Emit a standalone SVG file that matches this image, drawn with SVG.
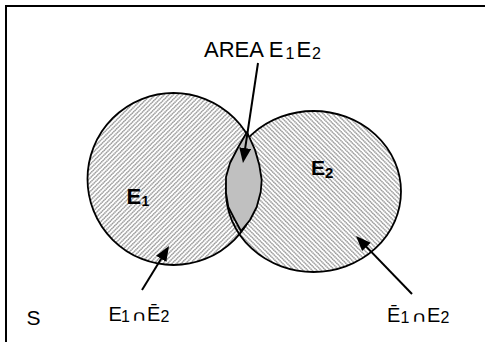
<svg xmlns="http://www.w3.org/2000/svg" width="485" height="342" viewBox="0 0 485 342">
<style>
.outline{fill:none;stroke:#000;stroke-width:1.8}
.txt{font-family:"Liberation Sans",Arial,sans-serif;fill:#000}
.bold{font-weight:bold}
.arrow{stroke:#000;stroke-width:2;fill:none;marker-end:url(#head)}
.sym{font-family:"DejaVu Sans",sans-serif}
</style>
<defs>
<pattern id="hatch1" patternUnits="userSpaceOnUse" width="3.2" height="10" patternTransform="rotate(45)">
<line x1="0.8" y1="0" x2="0.8" y2="10" stroke="#7a7a7a" stroke-width="1.2" stroke-dasharray="1.4 0.6"/>
</pattern>
<pattern id="hatch2" patternUnits="userSpaceOnUse" width="3.2" height="10" patternTransform="rotate(-45)">
<line x1="0.8" y1="0" x2="0.8" y2="10" stroke="#7a7a7a" stroke-width="1.2" stroke-dasharray="1.4 0.6"/>
</pattern>
<marker id="head" markerUnits="userSpaceOnUse" markerWidth="16" markerHeight="13" refX="10" refY="6" orient="auto">
<path d="M0,0 L15,6 L0,12 Z" fill="#000"/>
</marker>
</defs>
<rect id="frame" x="6" y="6" width="490" height="350" fill="#fff" stroke="#000" stroke-width="2"/>
<g id="E1">
<circle cx="173.5" cy="179" r="86" fill="url(#hatch1)"/>
</g>
<g id="E2">
<ellipse cx="313.5" cy="191.5" rx="87.5" ry="80.5" fill="url(#hatch2)"/>
</g>
<g id="outlines">
<circle class="outline" cx="173.5" cy="179" r="86"/>
<ellipse class="outline" cx="313.5" cy="191.5" rx="87.5" ry="80.5"/>
</g>
<g id="intersection">
<path d="M247,132 L255,150 L259.3,165 L261.7,180 L260.7,192 L256.7,207 L250,220 L241,231 L235,220 L228.3,207 L226,193 L226,177 L230,163 L238.3,147 Z" fill="#c0c0c0" stroke="#000" stroke-width="1.8" stroke-linejoin="round"/>
</g>
<g id="connectors">
<line class="arrow" x1="258" y1="63" x2="243.7" y2="158"/>
<line class="arrow" x1="142" y1="290" x2="166.4" y2="250.3"/>
<line class="arrow" x1="412" y1="294" x2="359.5" y2="239.6"/>
</g>
<g id="label-area">
<text class="txt" x="204" y="56.5" font-size="22">AREA E</text>
<text class="txt" x="285.5" y="58.5" font-size="16">1</text>
<text class="txt" x="296.5" y="56.5" font-size="22">E</text>
<text class="txt" x="312" y="58.5" font-size="16">2</text>
</g>
<g id="label-E1">
<text class="txt bold" x="126.5" y="203.5" font-size="22">E</text>
<text class="txt bold" x="141.5" y="206" font-size="14">1</text>
</g>
<g id="label-E2">
<text class="txt bold" x="311" y="174.5" font-size="21">E</text>
<text class="txt bold" x="325" y="177.5" font-size="15">2</text>
</g>
<g id="label-left">
<text class="txt" x="108.5" y="320.5" font-size="20">E</text>
<text class="txt" x="121" y="321.5" font-size="16">1</text>
<text class="txt sym" transform="translate(131.5,320.5) scale(1.4,1)" x="0" y="0" font-size="15">∩</text>
<text class="txt" x="147" y="320.5" font-size="20">Ē</text>
<text class="txt" x="160.5" y="321.5" font-size="16">2</text>
</g>
<g id="label-right">
<text class="txt" x="387" y="321.5" font-size="20">Ē</text>
<text class="txt" x="400.5" y="322.5" font-size="16">1</text>
<text class="txt sym" transform="translate(411.5,321.5) scale(1.4,1)" x="0" y="0" font-size="15">∩</text>
<text class="txt" x="427" y="321.5" font-size="20">E</text>
<text class="txt" x="440.5" y="322.5" font-size="16">2</text>
</g>
<g id="label-S">
<text class="txt" x="26.5" y="325" font-size="21">S</text>
</g>
</svg>
